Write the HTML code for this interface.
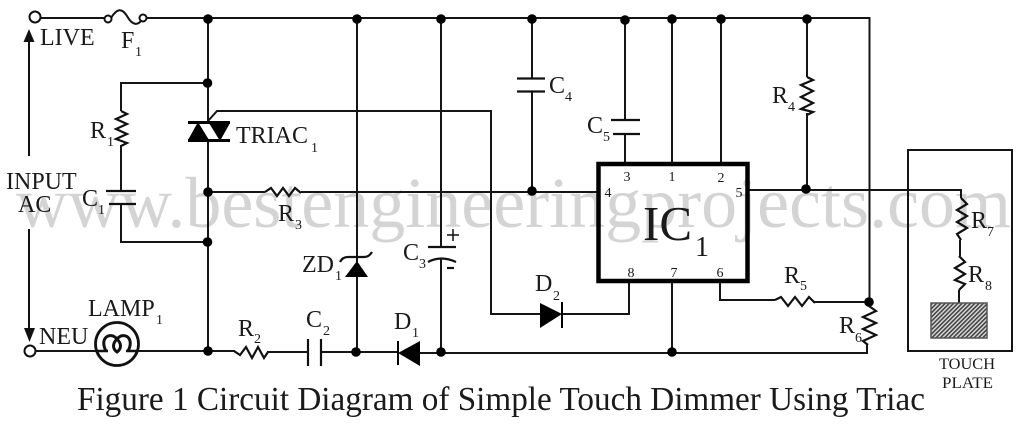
<!DOCTYPE html>
<html><head><meta charset="utf-8"><style>
html,body{margin:0;padding:0;background:#fff}
svg{display:block}
text{font-family:"Liberation Serif",serif;fill:#1a1a1a}
.l{font-size:24px}.s{font-size:14px}.p{font-size:14px;text-anchor:middle}
.w{fill:none;stroke:#151515;stroke-width:2}
.r{fill:none;stroke:#111;stroke-width:2.2;stroke-linejoin:miter}
</style></head><body>
<svg width="1024" height="424" viewBox="0 0 1024 424" xmlns="http://www.w3.org/2000/svg">
<defs>
<pattern id="h" width="3" height="3" patternUnits="userSpaceOnUse" patternTransform="rotate(-45)"><rect width="3" height="3" fill="#ddd"/><rect width="3" height="1.6" fill="#444"/></pattern>
</defs>
<rect width="1024" height="424" fill="#fff"/>
<text x="16" y="227" font-size="72" style="fill:#d4d4d4">www.bestengineeringprojects.com</text>

<!-- wires -->
<g class="w">
<path d="M41 18H104M147 18H869.5V302"/>
<path d="M208 19V122M208 140V351"/>
<path d="M208 83H121V111M121 145V191M121 204V242H208"/>
<path d="M208 121L217 111H491V314H540M562 314H629V282"/>
<path d="M208 192H265M301 192H597"/>
<path d="M357 19V262M357 277V352"/>
<path d="M441 19V247M441 259V352"/>
<path d="M532 19V78M532 91V191"/>
<path d="M625 19V120M625 134V163"/>
<path d="M672 19V163M672 282V352"/>
<path d="M721 19V163"/>
<path d="M807 19V77M807 113V190"/>
<path d="M748 190H961V198"/>
<path d="M35 351H96M138 351H235M267 352H308M321 352H398M420 353H867V344"/>
<path d="M720 282V300H775M814 302H869"/>
<path d="M960 240V256M959 290V303"/>
<rect x="908" y="150" width="104" height="201"/>
</g>

<!-- arrows -->
<g stroke="#111" stroke-width="2" fill="#111">
<path d="M29 156V40" fill="none"/><path d="M23.500 42L29 29L34.500 42Z" stroke="none"/>
<path d="M29 229V332" fill="none"/><path d="M24 328H35L29.500 342Z" stroke="none"/>
</g>

<!-- terminals -->
<circle cx="35" cy="17" r="5.500" fill="#fff" stroke="#111" stroke-width="2"/>
<circle cx="30" cy="351" r="5.500" fill="#fff" stroke="#111" stroke-width="2"/>

<!-- fuse -->
<path d="M111 18C117 8 122 8 127 16C132 25 138 27 143 18" fill="none" stroke="#111" stroke-width="2"/>
<circle cx="108" cy="19" r="3.500" fill="#fff" stroke="#111" stroke-width="2"/>
<circle cx="143" cy="18" r="3.500" fill="#fff" stroke="#111" stroke-width="2"/>

<!-- resistors -->
<g class="r">
<path d="M121 111L127 114L116 119L127 124L116 129L127 134L116 139L127 143L121 146"/>
<path d="M265 192L271 188L277 196L283 188L289 196L295 188L301 193"/>
<path d="M234 351L240 355L246 347L252 358L258 347L264 358L268 352"/>
<path d="M807 77L813 80L801 85L813 91L801 97L813 103L801 109L813 112L807 115"/>
<path d="M775 300L781 297L788 306L795 297L802 306L809 297L815 303"/>
<path d="M869 306L876 311L863 317L876 323L863 329L876 335L863 341L868 345"/>
<path d="M961 198L967 204L957 210L967 216L957 222L967 228L957 234L961 240"/>
<path d="M959 256L965 262L955 268L965 274L955 280L965 284L959 290"/>
</g>

<!-- capacitors -->
<g stroke="#111" stroke-width="2.200" fill="none">
<path d="M106 191H136M109 204H136"/>
<path d="M517 78.500H545M517 91.500H545"/>
<path d="M611 120H640M613 134H640"/>
<path d="M308 339V366M321 339V366"/>
<path d="M428 247H456M428 262Q441 255 456 262"/>
<path d="M447 235H459M453 229V241" stroke-width="1.500"/>
<path d="M447 268H454"/>
</g>

<!-- triac -->
<g fill="#000" stroke="none">
<rect x="188" y="121" width="42" height="3"/><rect x="188" y="139" width="42" height="3"/>
<path d="M188 140L198 122L209 140Z"/>
<path d="M209 123H230L220 141Z"/>
<!-- diodes -->
<path d="M540 303L562 314L540 328Z"/>
<rect x="561" y="302" width="2" height="26"/>
<path d="M420 341L398 353L420 366Z"/>
<rect x="397" y="341" width="2" height="24"/>
<!-- zener -->
<path d="M345 277L357 261L368 277Z"/>
</g>
<path d="M340 262C342 258 345 257 348 257H364C368 257 370 255 372 252" fill="none" stroke="#111" stroke-width="2.200"/>

<!-- lamp -->
<circle cx="117" cy="344" r="21.500" fill="#fff" stroke="#111" stroke-width="2.800"/>
<path d="M96 351H108M126 351H138" stroke="#111" stroke-width="2.500"/>
<path d="M106 351C99 338 110 331 117 339C124 331 135 338 128 351M117 339C111 345 114 350 117 352C120 350 123 345 117 339" fill="none" stroke="#111" stroke-width="3"/>

<!-- IC -->
<rect x="598.500" y="164" width="149" height="117" fill="none" stroke="#000" stroke-width="4.500"/>

<!-- plate -->
<rect x="931" y="303" width="56" height="35" fill="url(#h)" stroke="#555" stroke-width="1.500"/>

<!-- dots -->
<g fill="#000">
<circle cx="208" cy="19" r="4.800"/><circle cx="207.500" cy="83" r="4.800"/><circle cx="208" cy="192" r="4.800"/><circle cx="207.500" cy="242" r="4.800"/><circle cx="208" cy="351" r="4.800"/>
<circle cx="357" cy="19" r="4.800"/><circle cx="441" cy="19" r="4.800"/><circle cx="532" cy="19" r="4.800"/><circle cx="625" cy="20" r="4.800"/><circle cx="672" cy="19" r="4.800"/><circle cx="721" cy="19" r="4.800"/><circle cx="807" cy="19" r="4.800"/>
<circle cx="532" cy="191" r="4.800"/><circle cx="806" cy="189" r="4.800"/><circle cx="869" cy="302" r="4.800"/>
<circle cx="356" cy="352" r="4.800"/><circle cx="441" cy="352" r="4.800"/><circle cx="672" cy="352" r="4.800"/>
</g>

<!-- labels -->
<text class="l" x="40" y="45">LIVE</text>
<text class="l" x="121" y="48">F</text><text class="s" x="135" y="56">1</text>
<text class="l" x="90" y="138">R</text><text class="s" x="107" y="146">1</text>
<text class="l" x="236" y="143">TRIAC</text><text class="s" x="311" y="152">1</text>
<text class="l" x="6" y="189">INPUT</text>
<text class="l" x="18" y="212">AC</text>
<text class="l" x="82" y="206">C</text><text class="s" x="98" y="214">1</text>
<text class="l" x="278" y="221">R</text><text class="s" x="295" y="229">3</text>
<text class="l" x="302" y="272">ZD</text><text class="s" x="335" y="280">1</text>
<text class="l" x="88" y="316">LAMP</text><text class="s" x="156" y="324">1</text>
<text class="l" x="39" y="344">NEU</text>
<text class="l" x="238" y="336">R</text><text class="s" x="254" y="343">2</text>
<text class="l" x="306" y="327">C</text><text class="s" x="323" y="335">2</text>
<text class="l" x="394" y="329">D</text><text class="s" x="412" y="337">1</text>
<text class="l" x="403" y="260">C</text><text class="s" x="419" y="268">3</text>
<text class="l" x="535" y="291">D</text><text class="s" x="553" y="300">2</text>
<text class="l" x="549" y="93">C</text><text class="s" x="565" y="101">4</text>
<text class="l" x="587" y="133">C</text><text class="s" x="603" y="141">5</text>
<text class="l" x="772" y="103">R</text><text class="s" x="788" y="111">4</text>
<text class="l" x="784" y="283">R</text><text class="s" x="800" y="290">5</text>
<text class="l" x="839" y="333">R</text><text class="s" x="855" y="342">6</text>
<text class="l" x="971" y="228">R</text><text class="s" x="987" y="236">7</text>
<text class="l" x="968" y="282">R</text><text class="s" x="985" y="290">8</text>
<text class="p" x="627" y="181">3</text><text class="p" x="672" y="181">1</text><text class="p" x="721" y="182">2</text>
<text class="p" x="608" y="197">4</text><text class="p" x="739" y="197">5</text>
<text class="p" x="631" y="277">8</text><text class="p" x="674" y="277">7</text><text class="p" x="720" y="277">6</text>
<text x="643" y="240" font-size="49">IC</text>
<text x="695" y="256" font-size="28">1</text>
<text x="939" y="369" font-size="16" textLength="56" lengthAdjust="spacingAndGlyphs">TOUCH</text>
<text x="942" y="388" font-size="16" textLength="51" lengthAdjust="spacingAndGlyphs">PLATE</text>
<text x="77" y="410" font-size="34" textLength="848" lengthAdjust="spacingAndGlyphs">Figure 1 Circuit Diagram of Simple Touch Dimmer Using Triac</text>
</svg>
</body></html>
